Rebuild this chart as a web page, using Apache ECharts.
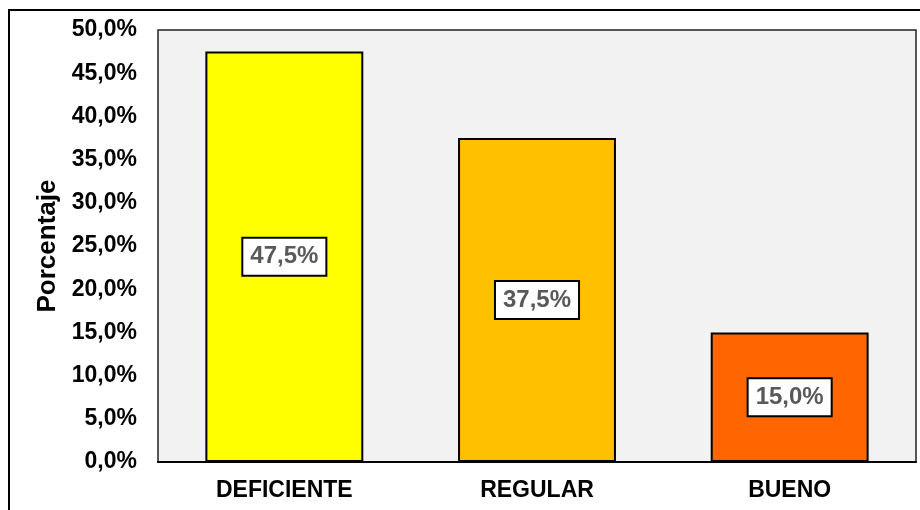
<!DOCTYPE html>
<html>
<head>
<meta charset="utf-8">
<script src="https://cdn.jsdelivr.net/npm/echarts@6/dist/echarts.min.js"></script>
<style>
  html, body { margin: 0; padding: 0; background: #fff; }
  #chart { width: 920px; height: 510px; }
</style>
</head>
<body>
<div id="chart"></div>
<script>
// datos del gráfico
const categories = ['DEFICIENTE', 'REGULAR', 'BUENO'];
const values = [47.5, 37.5, 15.0];
const barColors = ['#ffff00', '#ffc000', '#ff6600'];

const fmt = (v) => v.toFixed(1).replace('.', ',') + '%';

const chart = echarts.init(document.getElementById('chart'));
chart.setOption({
  animation: false,
  textStyle: { fontFamily: 'Liberation Sans, Arial, sans-serif' },
  graphic: [
    {
      // marco exterior
      type: 'rect',
      shape: { x: 9, y: 10, width: 1000, height: 600 },
      style: { fill: 'none', stroke: '#000', lineWidth: 2 },
      silent: true,
    },
  ],
  grid: {
    left: 158,
    top: 30,
    right: 4,
    bottom: 48,
    show: true,
    backgroundColor: '#f2f2f2',
    borderColor: '#222',
    borderWidth: 1.5,
  },
  xAxis: {
    type: 'category',
    data: categories,
    axisTick: { show: false },
    axisLine: { lineStyle: { color: '#000', width: 2 } },
    axisLabel: {
      color: '#000',
      fontWeight: 'bold',
      fontSize: 23,
      margin: 17,
    },
  },
  yAxis: {
    type: 'value',
    min: 0,
    max: 50,
    interval: 5,
    name: 'Porcentaje',
    nameLocation: 'middle',
    nameGap: 94,
    nameRotate: 90,
    nameTextStyle: { color: '#000', fontWeight: 'bold', fontSize: 26 },
    splitLine: { show: false },
    axisLine: { show: false },
    axisTick: { show: false },
    axisLabel: {
      color: '#000',
      fontWeight: 'bold',
      fontSize: 23,
      margin: 21,
      formatter: (v) => fmt(v),
    },
  },
  series: [
    {
      type: 'bar',
      barWidth: '62.5%',
      data: values.map((v, i) => ({
        value: v,
        itemStyle: { color: barColors[i] },
      })),
      itemStyle: { borderColor: '#000', borderWidth: 2 },
      label: {
        show: true,
        position: 'inside',
        formatter: (p) => fmt(p.value),
        color: '#595959',
        fontWeight: 'bold',
        fontSize: 24,
        backgroundColor: '#fff',
        borderColor: '#000',
        borderWidth: 2,
        padding: [7, 7, 5, 7],
      },
    },
  ],
});
</script>
</body>
</html>
